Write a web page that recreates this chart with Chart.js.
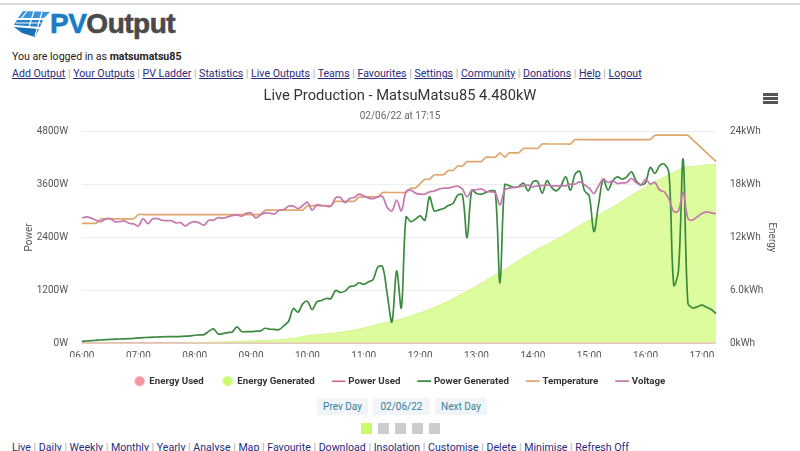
<!DOCTYPE html>
<html lang="en">
<head>
  <meta charset="UTF-8" />
  <title>PVOutput - Live Production</title>
  <style>
    * { margin: 0; padding: 0; box-sizing: border-box; }
    html, body { width: 800px; height: 451px; overflow: hidden; background: #fff; }
    body { font-family: Roboto, sans-serif; font-size: 10.6px; color: #222; position: relative; }
    a { color: #2a2a7a; text-decoration: underline; }
    .sep { color: #aaa; }
    .abs { position: absolute; white-space: nowrap; }
    #topline { left: 0; top: 3px; width: 800px; height: 2px; background: #ddd; }
    #brand { left: 50px; top: 8px; font: bold 28px/32px "Liberation Sans", sans-serif; letter-spacing: -0.5px; color: #4a4a4a; -webkit-text-stroke: 0.6px; }
    #brand span { color: #1b7cc4; }
    #chartBox { left: 0; top: 85px; }
    #menu { left: 763px; top: 93px; width: 15px; }
    #menu div { height: 2.5px; background: #555; margin-bottom: 1.5px; }
    .btn { top: 398px; height: 17px; line-height: 17px; text-align: center; background: #f2f5f7; border-radius: 2px; color: #33809c; font-size: 10px; }
    .sq { top: 423px; width: 10.5px; height: 10.5px; background: #ccc; }
  </style>
</head>
<body>
  <div class="abs" id="topline"></div>
  <svg class="abs" style="left:13px;top:10px" width="38" height="28" viewBox="0 0 38 28">
    <polygon points="10,1 37,2 31,8 5,8" fill="#3d94d6"/>
    <polygon points="4,10 30,10 27,17 1,15" fill="#2a82c8"/>
    <polygon points="1,17 26,19 22,27 9,23" fill="#1b6fb4"/>
    <path d="M14,1 L8,9 M21,1 L16,17 M29,2 L22,26 M3,13 L28,13" stroke="#fff" stroke-width="1.2"/>
  </svg>
  <div class="abs" id="brand"><span>PV</span>Output</div>
  <div class="abs" style="left:12px;top:50px">You are logged in as <b>matsumatsu85</b></div>
  <div class="abs" id="navTop" style="left:12px;top:67px"></div>
  <div class="abs" id="chartBox"><canvas id="liveChart" width="800" height="311"></canvas></div>
  <div class="abs" id="menu"><div></div><div></div><div></div></div>
  <div class="abs btn" style="left:317px;width:51px">Prev Day</div>
  <div class="abs btn" style="left:373px;width:57px">02/06/22</div>
  <div class="abs btn" style="left:435px;width:52px">Next Day</div>
  <div class="abs sq" style="left:361px;background:#c8fb6b"></div>
  <div class="abs sq" style="left:378px"></div>
  <div class="abs sq" style="left:395px"></div>
  <div class="abs sq" style="left:412px"></div>
  <div class="abs sq" style="left:429px"></div>
  <div class="abs" id="navBottom" style="left:12px;top:441px"></div>

  <script src="https://cdn.jsdelivr.net/npm/chart.js"></script>
  <script>
    const navTopLinks = ["Add Output", "Your Outputs", "PV Ladder", "Statistics", "Live Outputs", "Teams", "Favourites", "Settings", "Community", "Donations", "Help", "Logout"];
    const navBottomLinks = ["Live", "Daily", "Weekly", "Monthly", "Yearly", "Analyse", "Map", "Favourite", "Download", "Insolation", "Customise", "Delete", "Minimise", "Refresh Off"];

    const times = [
      "06:00","06:05","06:10","06:15","06:20","06:25","06:30","06:35","06:40","06:45","06:50","06:55",
      "07:00","07:05","07:10","07:15","07:20","07:25","07:30","07:35","07:40","07:45","07:50","07:55",
      "08:00","08:05","08:10","08:15","08:20","08:25","08:30","08:35","08:40","08:45","08:50","08:55",
      "09:00","09:05","09:10","09:15","09:20","09:25","09:30","09:35","09:40","09:45","09:50","09:55",
      "10:00","10:05","10:10","10:15","10:20","10:25","10:30","10:35","10:40","10:45","10:50","10:55",
      "11:00","11:05","11:10","11:15","11:20","11:25","11:30","11:35","11:40","11:45","11:50","11:55",
      "12:00","12:05","12:10","12:15","12:20","12:25","12:30","12:35","12:40","12:45","12:50","12:55",
      "13:00","13:05","13:10","13:15","13:20","13:25","13:30","13:35","13:40","13:45","13:50","13:55",
      "14:00","14:05","14:10","14:15","14:20","14:25","14:30","14:35","14:40","14:45","14:50","14:55",
      "15:00","15:05","15:10","15:15","15:20","15:25","15:30","15:35","15:40","15:45","15:50","15:55",
      "16:00","16:05","16:10","16:15","16:20","16:25","16:30","16:35","16:40","16:45","16:50","16:55",
      "17:00","17:05","17:10","17:15"
    ];

    // nothing is consumed on this system, both "used" series sit on the baseline
    const energyUsed = [
      0,0,0,0,0,0,0,0,0,0,0,0, 0,0,0,0,0,0,0,0,0,0,0,0, 0,0,0,0,0,0,0,0,0,0,0,0,
      0,0,0,0,0,0,0,0,0,0,0,0, 0,0,0,0,0,0,0,0,0,0,0,0, 0,0,0,0,0,0,0,0,0,0,0,0,
      0,0,0,0,0,0,0,0,0,0,0,0, 0,0,0,0,0,0,0,0,0,0,0,0, 0,0,0,0,0,0,0,0,0,0,0,0,
      0,0,0,0,0,0,0,0,0,0,0,0, 0,0,0,0,0,0,0,0,0,0,0,0, 0,0,0,0
    ];
    const powerUsed = energyUsed;

    const energyGenerated = [
      0,0,0,0,0,0,0,0,0,0,0,0,
      0,0,0,0,0,0,0,0,0,0,.05,.07,
      .08,.09,.10,.11,.13,.15,.16,.17,.18,.20,.22,.24,
      .27,.28,.30,.32,.35,.37,.40,.45,.50,.56,.64,.75,
      .87,.92,.98,1.03,1.08,1.13,1.18,1.25,1.33,1.42,1.52,1.63,
      1.74,1.86,2.0,2.15,2.3,2.4,2.5,2.62,2.75,2.9,3.1,3.28,
      3.45,3.65,3.85,4.05,4.3,4.55,4.78,5.05,5.35,5.6,5.9,6.2,
      6.48,6.8,7.12,7.45,7.75,8.05,8.38,8.7,9.05,9.4,9.75,10.05,
      10.39,10.65,10.95,11.2,11.5,11.8,12.06,12.4,12.7,13.05,13.35,13.65,
      13.95,14.2,14.5,14.85,15.15,15.45,15.77,16.1,16.45,16.8,17.1,17.4,
      17.74,18.05,18.35,18.6,18.85,19.15,19.37,19.65,19.94,20.0,20.05,20.1,
      20.17,20.22,20.27,20.32
    ];

    const powerGenerated = [
      45,52,60,68,75,82,88,93,97,100,105,112,
      121,128,133,138,143,147,151,153,150,155,162,170,
      182,190,197,273,326,212,220,243,258,372,265,265,
      265,273,281,341,318,315,311,402,500,789,705,895,
      955,766,940,971,1016,1016,1198,1153,1183,1282,1304,1373,
      1335,1395,1448,1729,1737,1107,485,1638,804,2866,2760,2813,
      2889,2790,3321,3003,3025,3056,3124,3170,3359,3367,2396,3473,
      3397,3382,3420,3458,3443,1373,3594,3572,3534,3556,3632,3458,
      3663,3670,3405,3685,3534,3458,3572,3776,3473,3837,3898,3458,
      3344,2533,3155,3723,3473,3685,3776,3723,3776,3890,3685,3594,
      3647,3989,3852,4027,4065,3837,1319,1638,4178,918,804,827,
      864,819,766,675
    ];

    const temperature = [
      14,14,14,14,15,15,15,15,15,15,15,15,
      16,16,16,16,16,16,16,16,16,16,16,16,
      16,16,16,16,16,16,16,16,16,16,16,16,
      16,16,16,17,17,17,17,17,17,17,17,17,
      18,18,18,18,18,18,19,19,19,19,19,20,
      20,20,20,20,21,21,21,21,21,21,22,22,
      23,24,24,25,25,25,26,26,27,27,28,28,
      28,28,29,29,29,30,29,30,30,30,31,31,
      31,31,32,32,32,32,32,32,32,33,33,33,
      33,33,33,33,33,33,33,33,33,33,33,33,
      33,33,34,34,34,34,34,34,34,34,33,32,
      31,30,29,28
    ];

    const voltage = [
      215,216,214.7,212.7,211.3,214,214.3,211.3,211.3,212,209.7,209,
      207,214.3,209.3,214,214.3,212.7,212.3,212.3,210,210.3,207,210,
      211.3,210,207.7,212.7,212.7,215.3,214.7,216,217.3,218,216.7,219.7,
      220,215,218,220,219.7,219,222.7,223.3,226.7,226.7,224.3,227.3,
      230.7,222.7,228,227.3,226.7,226.7,235,235.3,230.3,234.3,235.3,238.7,
      237,234.7,234.3,236,236.3,225.3,222,232.7,222,241.3,242.7,239.7,
      238.7,238.7,241,241.7,243.7,244.7,244.7,246,246.7,243.7,236,242.7,
      243,244,241.3,241,240,228,242.7,244.7,245.3,246,247,247.7,
      246,247,247.3,247.7,247,247,247,247,248.7,248.7,251,248,
      244.7,239.3,247,253.7,250.3,252,249.3,250,250.3,254.3,250.3,247.7,
      253.7,248.7,250.3,242.7,241,233.7,221.3,222,240.3,214.7,212.7,216,
      219.3,221,220,219.3
    ];

    const fontFamily = "Roboto, sans-serif";

    function fillNav(id, links) {
      document.getElementById(id).innerHTML = links
        .map(l => `<a>${l}</a>`)
        .join(' <span class="sep">|</span> ');
    }
    fillNav("navTop", navTopLinks);
    fillNav("navBottom", navBottomLinks);

    // legend disc, 10px across
    function disc(color) {
      const c = document.createElement("canvas");
      c.width = 11;
      c.height = 11;
      const g = c.getContext("2d");
      g.fillStyle = color;
      g.beginPath();
      g.arc(5.5, 5.5, 5, 0, Math.PI * 2);
      g.fill();
      return c;
    }

    function lineSet(label, data, color, axis, width) {
      return {
        label: label,
        data: data,
        yAxisID: axis,
        borderColor: color,
        backgroundColor: color,
        borderWidth: width,
        pointRadius: 0,
        pointStyle: "line",
        tension: 0.35,
        fill: false
      };
    }

    new Chart(document.getElementById("liveChart"), {
      type: "line",
      data: {
        labels: times,
        datasets: [
          { label: "Energy Used", data: energyUsed, yAxisID: "yEnergy", borderColor: "#eac0ac", backgroundColor: "rgba(244,148,159,0.5)",
            borderWidth: 1.5, pointRadius: 0, pointStyle: disc("#f4949f"), fill: "origin", order: 4 },
          { label: "Energy Generated", data: energyGenerated, yAxisID: "yEnergy", borderColor: "#d2f58c", backgroundColor: "#dcfc9e",
            borderWidth: 1, pointRadius: 0, pointStyle: disc("#c8fb6b"), fill: "origin", tension: 0.3, order: 5 },
          { ...lineSet("Power Used", powerUsed, "#d0647e", "y", 1.5), order: 6 },
          { ...lineSet("Power Generated", powerGenerated, "#3c8a40", "y", 1.7), order: 2 },
          { ...lineSet("Temperature", temperature, "#e0a56c", "yTemp", 1.7), tension: 0.1, order: 3 },
          { ...lineSet("Voltage", voltage, "#c678ae", "yVolt", 1.7), order: 1 }
        ]
      },
      options: {
        responsive: false,
        animation: false,
        events: [],
        layout: { padding: { left: 19, right: 19, top: 3, bottom: 0 } },
        plugins: {
          title: {
            display: true,
            text: "Live Production - MatsuMatsu85 4.480kW",
            color: "#333",
            font: { family: fontFamily, size: 14.7, weight: "normal" },
            padding: { top: 0, bottom: 5 }
          },
          subtitle: {
            display: true,
            text: "02/06/22 at 17:15",
            color: "#666",
            font: { family: fontFamily, size: 10, weight: "normal" },
            padding: { top: 0, bottom: 9 }
          },
          legend: {
            position: "bottom",
            labels: {
              usePointStyle: true,
              boxHeight: 10,
              padding: 19,
              color: "#333",
              font: { family: fontFamily, size: 9.7, weight: "bold" },
              sort: (a, b) => a.datasetIndex - b.datasetIndex
            }
          },
          tooltip: { enabled: false }
        },
        scales: {
          x: {
            afterFit: s => { s.height = 14; },
            grid: { display: false, drawTicks: false },
            border: { display: false },
            ticks: {
              autoSkip: false,
              maxRotation: 0,
              padding: 7,
              color: "#555",
              font: { family: fontFamily, size: 10 },
              callback: function(value) {
                const t = times[value];
                return t.endsWith(":00") ? t : null;
              }
            }
          },
          y: {
            position: "left",
            min: 0,
            max: 4800,
            afterFit: s => { s.width = 63; },
            border: { display: false },
            grid: { color: "#eeeeee", drawTicks: false },
            title: { display: true, text: "Power", color: "#555", font: { family: fontFamily, size: 10 } },
            ticks: {
              stepSize: 1200,
              padding: 14,
              color: "#555",
              font: { family: fontFamily, size: 10 },
              callback: v => v + "W"
            }
          },
          yEnergy: {
            position: "right",
            min: 0,
            max: 24,
            afterFit: s => { s.width = 65; },
            border: { display: false },
            grid: { drawOnChartArea: false, drawTicks: false },
            title: { display: true, text: "Energy", color: "#555", font: { family: fontFamily, size: 10 } },
            ticks: {
              stepSize: 6,
              padding: 14,
              color: "#555",
              font: { family: fontFamily, size: 10 },
              callback: v => (v === 6 ? "6.0" : v) + "kWh"
            }
          },
          yTemp: { display: false, min: -13.2, max: 34.8 },
          yVolt: { display: false, min: 90, max: 301 }
        }
      }
    });
  </script>
</body>
</html>
